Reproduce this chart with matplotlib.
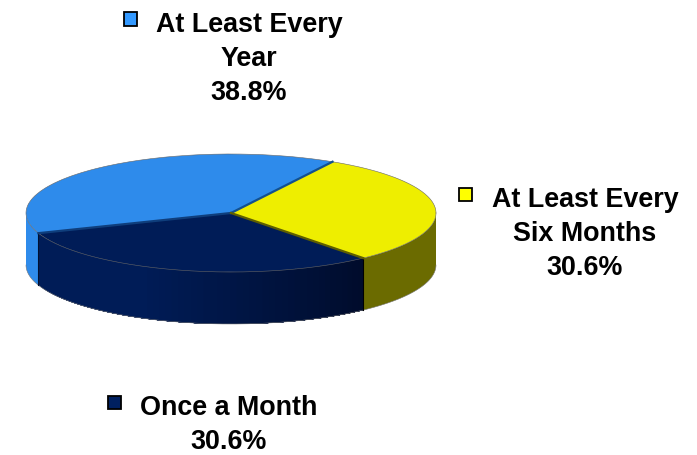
import numpy as np
import matplotlib
matplotlib.use("Agg")
import matplotlib.pyplot as plt
from matplotlib.patches import Rectangle

categories = ["At Least Every\nYear", "At Least Every\nSix Months", "Once a Month"]
values = [38.8, 30.6, 30.6]
top_colors = ["#2E8BEB", "#EEEE00", "#001C57"]
legend_colors = ["#3399FF", "#FFFF00", "#002060"]
wall_colors = ["#2E8BEB", "#6B6B00", "#001C57"]
start_deg = 200.0

W, H = 697, 455
CX, CY, RX, RY, DEPTH = 231, 213, 205, 59, 52

fig = plt.figure(figsize=(W / 100, H / 100), dpi=100)
ax = fig.add_axes([0, 0, 1, 1])

d = DEPTH / RY
angles = [start_deg]
for v in values:
    angles.append(angles[-1] - v / sum(values) * 360)
a0, a1, a2, a3 = angles
# angles on the front half of the rim, measured 180..360
seam_navy_left = a0
seam_navy_right = a2 + 360


def wall(a, b, color, z=2):
    t = np.radians(np.linspace(a, b, 60))
    x, y = np.cos(t), np.sin(t)
    ax.fill(np.r_[x, x[::-1]], np.r_[y, y[::-1] - d], color=color, lw=0, zorder=z)


wall(180, seam_navy_left, wall_colors[0], z=1)
wall(seam_navy_right, 360, wall_colors[1], z=1)

# navy wall: painted left to right, each strip reaching the far seam, so no gaps show
c0 = np.array(matplotlib.colors.to_rgb("#001C57"))
c1 = np.array(matplotlib.colors.to_rgb("#000C2C"))
edges = np.linspace(seam_navy_left, seam_navy_right, 61)
for i in range(60):
    f = max(0, (i / 59 - 0.4) / 0.6)
    wall(edges[i], seam_navy_right, c0 * (1 - f) + c1 * f, z=2)

# lower rim and wall seams
t = np.radians(np.linspace(180, 360, 200))
ax.plot(np.cos(t), np.sin(t) - d, color="#777777", lw=0.4, zorder=3)
for ang, col in [(seam_navy_left, "#001030"), (seam_navy_right, "#000000")]:
    r = np.radians(ang)
    ax.plot([np.cos(r)] * 2, [np.sin(r), np.sin(r) - d], color=col, lw=0.8, zorder=3)

# top face, via the library's pie
ax.pie(values, colors=top_colors, startangle=start_deg, counterclock=False,
       radius=1, center=(0, 0), frame=True, wedgeprops=dict(lw=0, zorder=4))
ax.set_aspect("auto")
ax.set_xlim(-CX / RX, (W - CX) / RX)
ax.set_ylim((CY - H) / RY, CY / RY)
ax.axis("off")

# rim and seams of the top face
t = np.radians(np.linspace(0, 360, 400))
ax.plot(np.cos(t), np.sin(t), color="#666666", lw=0.4, zorder=5)
for ang, col in zip([a0, a1, a2], ["#0F3E7C", "#12508F", "#5E5E00"]):
    r = np.radians(ang)
    ax.plot([0, np.cos(r)], [0, np.sin(r)], color=col, lw=1.6, zorder=5)

# labels
font = dict(family="Liberation Sans", weight="bold", size=19.4, color="black",
            ha="center", va="center", linespacing=1.42, zorder=6)
pct = [f"{v:.1f}%" for v in values]
label_px = [(249, 59), (585, 234), (229, 425)]
swatch_px = [(130, 19), (465, 194), (114, 402)]
for cat, p, (px, py), (sx, sy), c in zip(categories, pct, label_px, swatch_px, legend_colors):
    fig.text(px / W, 1 - py / H, f"{cat}\n{p}", **font)
    fig.add_artist(Rectangle(((sx - 6.5) / W, 1 - (sy + 6.5) / H), 13 / W, 13 / H,
                             transform=fig.transFigure, facecolor=c,
                             edgecolor="black", lw=1.3, zorder=6))

fig.savefig("out.png", dpi=100, facecolor="white")
